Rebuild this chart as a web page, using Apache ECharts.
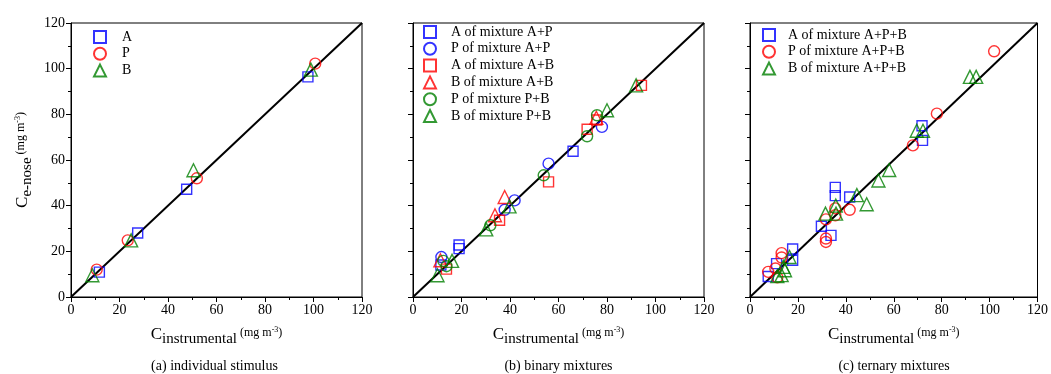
<!DOCTYPE html>
<html><head><meta charset="utf-8">
<script src="https://cdn.jsdelivr.net/npm/echarts@6/dist/echarts.min.js"></script>
<style>html,body{margin:0;padding:0;background:#fff}#c{width:1051px;height:374px}</style>
</head><body><div id="c"></div>
<script>
const xTicks = [0, 20, 40, 60, 80, 100, 120];
const yTicks = [0, 20, 40, 60, 80, 100, 120];
const diagonal = [[0, 0], [120, 120]];

// (a) individual stimulus
const A_ind = [[11.7,10.9],[27.5,28.0],[47.7,47.2],[97.7,96.4]];
const P_ind = [[10.6,12.0],[23.4,24.8],[51.9,52.0],[100.7,102.2]];
const B_ind = [[8.8,9.5],[24.8,24.8],[50.5,55.5],[98.9,99.6]];

// (b) binary mixtures
const A_AP = [[11.5,14.0],[19.0,22.8],[19.0,21.2],[66.0,63.8]];
const P_AP = [[11.7,17.5],[37.8,38.2],[41.9,42.3],[55.9,58.4],[77.9,74.5]];
const A_AB = [[13.8,12.2],[35.7,33.6],[55.9,50.4],[71.8,73.5],[75.8,77.5],[94.2,92.7]];
const B_AB = [[11.3,16.1],[33.8,35.8],[37.8,43.8],[75.6,78.5]];
const P_PB = [[12.5,15.8],[13.8,13.5],[31.9,31.4],[53.9,53.3],[71.8,70.4],[75.9,79.6]];
const B_PB = [[10.1,9.5],[16.1,15.8],[30.2,29.6],[39.8,39.7],[80.0,81.8],[92.0,92.7]];

// (c) ternary mixtures
const A_APB = [[7.6,9.0],[11.1,14.6],[17.8,16.1],[17.8,21.0],[29.8,31.0],[33.8,27.0],[35.6,48.0],[35.6,44.4],[41.6,43.8],[71.8,75.0],[72.0,68.6]];
const P_APB = [[7.6,11.0],[11.4,8.6],[10.6,12.5],[13.2,19.2],[13.2,17.3],[31.7,34.0],[31.7,25.6],[31.7,24.1],[35.6,35.8],[35.6,38.8],[41.6,38.2],[68.0,66.4],[78.0,80.3],[101.9,107.6]];
const B_APB = [[11.4,9.2],[13.2,9.6],[13.9,13.2],[14.6,11.7],[16.5,17.5],[31.5,36.5],[35.8,40.0],[35.9,36.5],[44.6,44.6],[48.7,40.6],[53.6,51.0],[58.1,55.6],[69.6,72.8],[72.2,72.8],[91.8,96.4],[94.4,96.4]];

const captions = ['(a) individual stimulus', '(b) binary mixtures', '(c) ternary mixtures'];

const FONT = 'Liberation Serif';
const BLUE = '#0000ff', RED = '#ff0000', GREEN = '#008000';
const grids = [
  {left: 71, top: 23, width: 291, height: 274},
  {left: 413, top: 23, width: 291, height: 274},
  {left: 750, top: 23, width: 288, height: 274}
];

const xName = '{c|C}{sub|instrumental}{u| (mg m}{sup|-3}{u|)}';
const yName = '{c|C}{sub|e-nose}{u| (mg m}{sup|-3}{u|)}';
const rich = {
  c: {fontFamily: FONT, fontSize: 17, color: '#000'},
  sub: {fontFamily: FONT, fontSize: 15, color: '#000', padding: [9, 0, 0, 0]},
  u: {fontFamily: FONT, fontSize: 12, color: '#000', padding: [0, 0, 4, 0]},
  sup: {fontFamily: FONT, fontSize: 8, color: '#000', padding: [0, 0, 11, 0]}
};

function xAxis(i) {
  return {
    type: 'value', gridIndex: i, min: 0, max: 120, interval: 20,
    axisLine: {lineStyle: {color: '#000', width: 1}},
    axisTick: {inside: false, length: 5, lineStyle: {color: '#000'}},
    minorTick: {show: true, splitNumber: 2, length: 3, lineStyle: {color: '#000'}},
    splitLine: {show: false},
    axisLabel: {fontFamily: FONT, fontSize: 14, color: '#000', margin: 6,
      formatter: v => xTicks.includes(v) ? String(v) : ''},
    name: xName, nameLocation: 'middle', nameGap: 26,
    nameTextStyle: {rich: rich}
  };
}
function yAxis(i) {
  const o = {
    type: 'value', gridIndex: i, min: 0, max: 120, interval: 20,
    axisLine: {lineStyle: {color: '#000', width: 1}},
    axisTick: {inside: false, length: 5, lineStyle: {color: '#000'}},
    minorTick: {show: true, splitNumber: 2, length: 3, lineStyle: {color: '#000'}},
    splitLine: {show: false},
    axisLabel: {show: i === 0, fontFamily: FONT, fontSize: 14, color: '#000', margin: 6,
      formatter: v => yTicks.includes(v) ? String(v) : ''}
  };
  if (i === 0) {
    o.name = yName; o.nameLocation = 'middle'; o.nameGap = 36;
    o.nameTextStyle = {rich: rich};
  }
  return o;
}

function sc(name, data, i, sym, color, size) {
  return {
    name: name, type: 'scatter', xAxisIndex: i, yAxisIndex: i, data: data,
    symbol: sym, symbolSize: size,
    itemStyle: {color: 'rgba(0,0,0,0)', borderColor: color, borderWidth: 1.4},
    z: 3
  };
}
function diag(i) {
  return {type: 'line', xAxisIndex: i, yAxisIndex: i, data: diagonal, symbol: 'none',
    lineStyle: {color: '#000', width: 2}, silent: true, z: 2};
}

const series = [
  diag(0), diag(1), diag(2),
  sc('A', A_ind, 0, 'rect', BLUE, 10),
  sc('P', P_ind, 0, 'circle', RED, 11),
  sc('B', B_ind, 0, 'triangle', GREEN, 13),
  sc('A of mixture A+P', A_AP, 1, 'rect', BLUE, 10),
  sc('P of mixture A+P', P_AP, 1, 'circle', BLUE, 11),
  sc('A of mixture A+B', A_AB, 1, 'rect', RED, 10),
  sc('B of mixture A+B', B_AB, 1, 'triangle', RED, 13),
  sc('P of mixture P+B', P_PB, 1, 'circle', GREEN, 11),
  sc('B of mixture P+B', B_PB, 1, 'triangle', GREEN, 13),
  sc('A of mixture A+P+B', A_APB, 2, 'rect', BLUE, 10),
  sc('P of mixture A+P+B', P_APB, 2, 'circle', RED, 11),
  sc('B of mixture A+P+B', B_APB, 2, 'triangle', GREEN, 13)
];

function legend(names, left, top, pad) {
  return {
    data: names, left: left, top: top, orient: 'vertical', itemGap: 2.8,
    itemWidth: 12, itemHeight: 12,
    textStyle: {fontFamily: FONT, fontSize: 14, color: '#000', padding: [0, 0, 0, pad]},
    selectedMode: false
  };
}

const chart = echarts.init(document.getElementById('c'), null, {renderer: 'canvas'});
chart.setOption({
  backgroundColor: '#fff',
  animation: false,
  grid: grids.map(g => Object.assign({show: true, borderColor: '#000', borderWidth: 1, backgroundColor: 'transparent'}, g)),
  xAxis: [0, 1, 2].map(xAxis),
  yAxis: [0, 1, 2].map(yAxis),
  legend: [
    legend(['A', 'P', 'B'], 88, 25, 11),
    legend(['A of mixture A+P', 'P of mixture A+P', 'A of mixture A+B', 'B of mixture A+B', 'P of mixture P+B', 'B of mixture P+B'], 418, 20, 10),
    legend(['A of mixture A+P+B', 'P of mixture A+P+B', 'B of mixture A+P+B'], 757, 23, 8)
  ],
  series: series,
  graphic: captions.map((t, i) => ({
    type: 'text', x: grids[i].left + grids[i].width / 2 - (i === 0 ? 2 : 0), y: 366,
    style: {text: t, font: '14px "Liberation Serif"', fill: '#000', align: 'center', verticalAlign: 'middle'}
  }))
});
</script></body></html>
